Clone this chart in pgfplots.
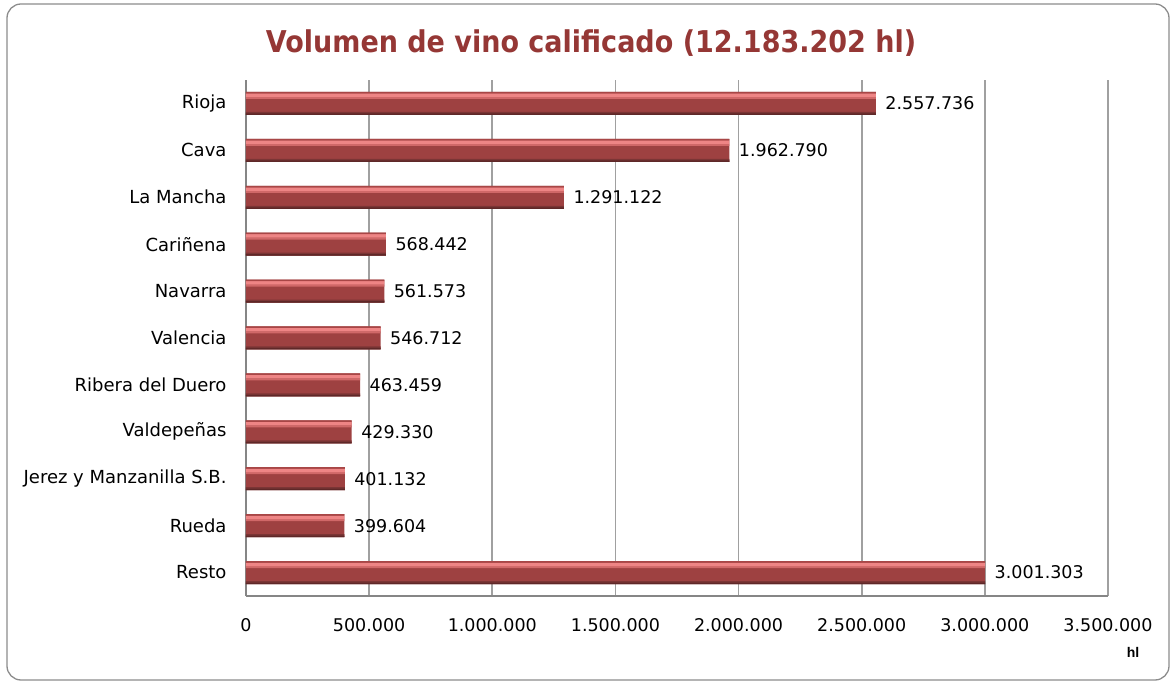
\documentclass[border=0pt]{standalone}
\usepackage{pgfplots}
\pgfplotsset{compat=1.18}
\usepackage{pgfplotstable}
\usepackage{fontspec}
\setmainfont{DejaVu Sans}
\newfontfamily\titlefont{DejaVu Sans}[FakeStretch=0.9]
\newfontfamily\hlfont{Liberation Sans}
\definecolor{titlec}{HTML}{953735}
\definecolor{framec}{HTML}{8C8C8C}
\definecolor{gridc}{HTML}{A0A0A0}
\definecolor{axisc}{HTML}{868686}
\definecolor{bA}{HTML}{5E2828}
\definecolor{bB}{HTML}{7B3535}
\definecolor{bC}{HTML}{9E4141}
\definecolor{bD}{HTML}{D06868}
\definecolor{bE}{HTML}{EE8585}
\definecolor{bF}{HTML}{A84646}

\pgfplotstableread[col sep=comma]{
pos,val,lab
10,2557736,2.557.736
9,1962790,1.962.790
8,1291122,1.291.122
7,568442,568.442
6,561573,561.573
5,546712,546.712
4,463459,463.459
3,429330,429.330
2,401132,401.132
1,399604,399.604
0,3001303,3.001.303
}\datatable

\begin{document}
\begin{tikzpicture}
\useasboundingbox (0pt,0pt) rectangle (1171pt,681pt);
\draw[rounded corners=14pt, color=framec, line width=1.3pt] (7pt,1pt) rectangle (1169pt,677pt);
\node[font=\titlefont\bfseries\fontsize{30}{34}\selectfont, text=titlec] at (591pt,638pt) {Volumen de vino calificado (12.183.202 hl)};
\begin{axis}[
  at={(246pt,85pt)}, anchor=south west,
  scale only axis, width=862pt, height=516pt,
  xbar, bar width=23pt,
  xmin=0, xmax=3500000,
  ymin=-0.5, ymax=10.5,
  xtick={0,500000,1000000,1500000,2000000,2500000,3000000,3500000},
  xticklabels={0,500.000,1.000.000,1.500.000,2.000.000,2.500.000,3.000.000,3.500.000},
  ytick={0,1,2,3,4,5,6,7,8,9,10},
  yticklabels={Resto,Rueda,{Jerez y Manzanilla S.B.},Valdepeñas,{Ribera del Duero},Valencia,Navarra,Cariñena,La Mancha,Cava,Rioja},
  scaled x ticks=false,
  major tick length=0pt,
  axis x line*=bottom, axis y line*=left,
  axis line style={draw=axisc, line width=2pt, -},
  xmajorgrids, major grid style={draw=gridc, line width=1.7pt},
  xticklabel style={font=\fontsize{17.5}{20}\selectfont, text=black, yshift=-19pt},
  yticklabel style={font=\fontsize{18}{21}\selectfont, text=black, xshift=-16pt},
  clip=false,
]
\addplot[fill=bC, draw=none, bar width=23pt, bar shift=0pt,
  nodes near coords, point meta=explicit symbolic,
  every node near coord/.append style={font=\fontsize{17.5}{20}\selectfont, text=black, anchor=west, xshift=6pt}]
  table[x=val, y=pos, meta=lab] {\datatable};
\addplot[fill=bB, draw=none, bar width=3pt, bar shift=-10pt] table[x=val, y=pos] {\datatable};
\addplot[fill=bA, draw=none, bar width=1.5pt, bar shift=-10.75pt] table[x=val, y=pos] {\datatable};
\addplot[fill=bD, draw=none, bar width=2pt, bar shift=5.5pt] table[x=val, y=pos] {\datatable};
\addplot[fill=bE, draw=none, bar width=3.5pt, bar shift=8.25pt] table[x=val, y=pos] {\datatable};
\addplot[fill=bF, draw=none, bar width=1.5pt, bar shift=10.75pt] table[x=val, y=pos] {\datatable};
\end{axis}
\node[font=\hlfont\bfseries\fontsize{14}{16}\selectfont] at (1133pt,29pt) {hl};
\end{tikzpicture}
\end{document}
